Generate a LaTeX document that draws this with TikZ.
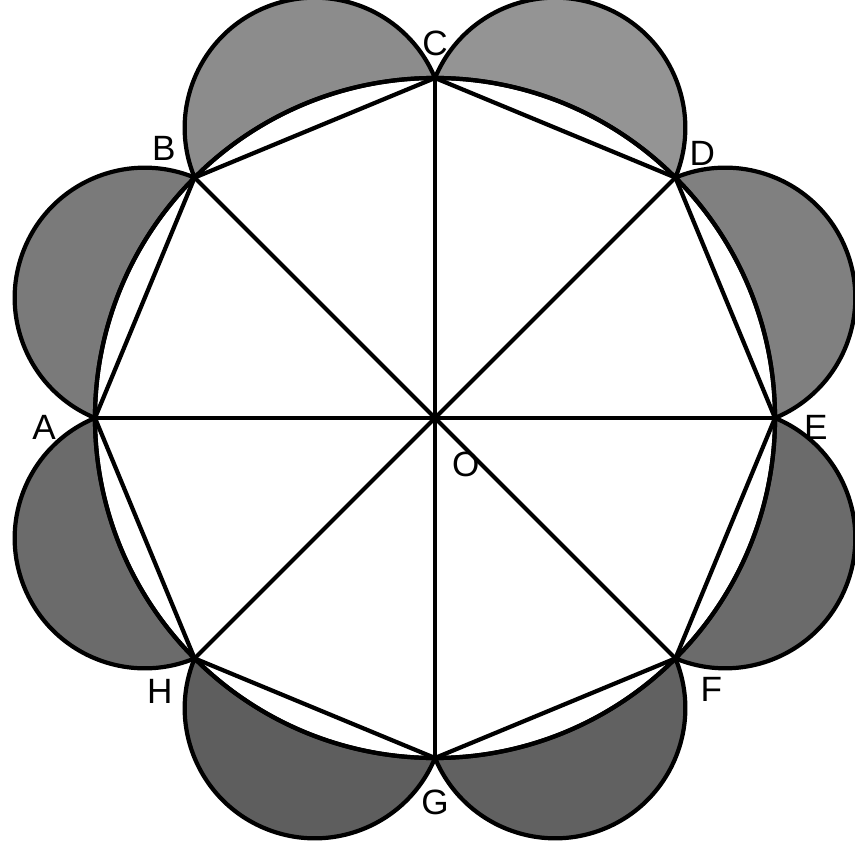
\documentclass[tikz,border=0pt]{standalone}
\usepackage{fontspec}
\setmainfont{Liberation Sans}
\usetikzlibrary{positioning}

\begin{document}
\begin{tikzpicture}[line width=1.2pt,line join=round,
    lbl/.style={inner sep=0pt,font=\fontsize{10}{11}\selectfont},
    lune/.style={fill=black!#1}]

    \useasboundingbox (-4.35,-4.31) rectangle (4.20,4.18);
    \def\R{3.4}
    \pgfmathsetmacro\r{\R*sin(22.5)}

    \coordinate (O) at (0,0);
    \foreach \n/\a in {C/90,D/45,E/0,F/-45,G/-90,H/-135,A/180,B/135}
      \coordinate (\n) at (\a:\R);

    % lunes on the sides
    \foreach \a/\s in {90/42,45/50,0/58,-45/62,-90/63,-135/58,-180/52,-225/45}
      \filldraw[lune=\s] (\a:\R) arc[start angle=\a+67.5, end angle=\a-112.5, radius=\r]
        arc[start angle=\a-45, end angle=\a, radius=\R] -- cycle;

    \draw (O) circle (\R);
    \draw (A) -- (B) -- (C) -- (D) -- (E) -- (F) -- (G) -- (H) -- cycle;
    \foreach \n in {A,B,C,D,E,F,G,H}
      \draw (O) -- (\n);

    \node[lbl] (lC) [above=0.2cm of C] {C};
    \node[lbl] (lD) [above right=0.1cm and 0.12cm of D] {D};
    \node[lbl] (lE) [below right=-0.05cm and 0.27cm of E] {E};
    \node[lbl] (lF) [below right=0.17cm and 0.23cm of F] {F};
    \node[lbl] (lG) [below=0.3cm of G] {G};
    \node[lbl] (lH) [below left=0.19cm and 0.2cm of H] {H};
    \node[lbl] (lA) [below left=-0.05cm and 0.37cm of A] {A};
    \node[lbl] (lB) [above left=0.15cm and 0.17cm of B] {B};
    \node[lbl] (lO) [below right=0.32cm and 0.15cm of O] {O};
\end{tikzpicture}
\end{document}
